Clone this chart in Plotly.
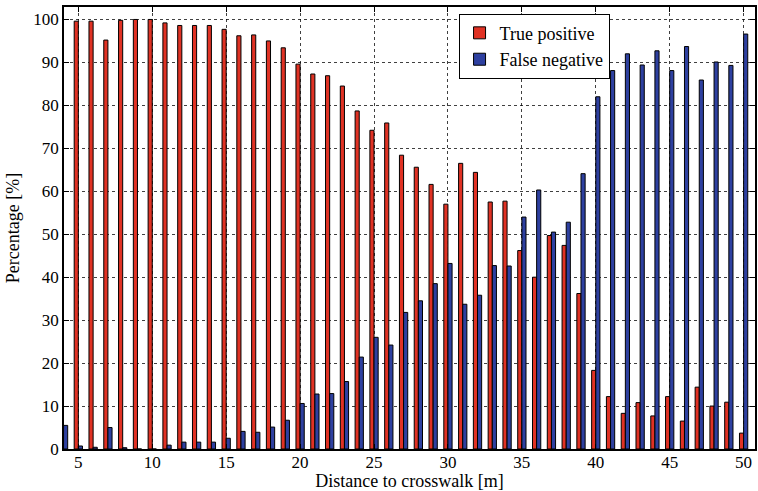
import plotly.graph_objects as go

distance = list(range(4, 51))
true_positive = [None, 99.6, 99.6, 95.2, 99.8, 100.0, 100.0, 99.2, 98.6, 98.6, 98.6, 97.7,
                 96.2, 96.4, 95.0, 93.4, 89.6, 87.3, 86.9, 84.5, 78.7, 74.2, 75.9, 68.4,
                 65.6, 61.6, 57.0, 66.5, 64.4, 57.5, 57.7, 46.2, 40.0, 49.7, 47.4, 36.2,
                 18.3, 12.2, 8.3, 10.8, 7.7, 12.2, 6.5, 14.4, 10.0, 10.9, 3.7]
false_negative = [5.5, 0.7, 0.4, 5.0, 0.3, 0.0, 0.0, 0.9, 1.6, 1.6, 1.6, 2.5,
                  4.1, 3.9, 5.1, 6.7, 10.6, 12.8, 12.9, 15.7, 21.4, 26.0, 24.2, 31.8,
                  34.5, 38.5, 43.2, 33.7, 35.8, 42.7, 42.6, 54.0, 60.3, 50.5, 52.8, 64.1,
                  82.0, 88.1, 92.0, 89.4, 92.7, 88.1, 93.7, 85.9, 90.1, 89.3, 96.6]
x_ticks = [5, 10, 15, 20, 25, 30, 35, 40, 45, 50]
y_ticks = [0, 10, 20, 30, 40, 50, 60, 70, 80, 90, 100]

FONT = "Liberation Serif"

fig = go.Figure()
fig.add_trace(go.Bar(x=distance, y=true_positive, name="True positive",
                     marker=dict(color="rgb(224,50,36)", line=dict(color="black", width=1))))
fig.add_trace(go.Bar(x=distance, y=false_negative, name="False negative",
                     marker=dict(color="rgb(46,64,160)", line=dict(color="black", width=1))))

axis_common = dict(showline=True, linecolor="black", linewidth=1.5, mirror="ticks",
                   ticks="inside", ticklen=5, tickcolor="black",
                   showgrid=True, gridcolor="rgba(0,0,0,0.75)", griddash="dot", gridwidth=1,
                   zeroline=False, ticklabeloverflow="allow",
                   tickfont=dict(family=FONT, size=17, color="black"))

fig.update_layout(
    width=758, height=491,
    margin=dict(l=64, r=1, t=7, b=42),
    paper_bgcolor="white", plot_bgcolor="white",
    barmode="group", bargap=0.44, bargroupgap=0.0,
    font=dict(family=FONT, size=17, color="black"),
    xaxis=dict(range=[4.03, 50.77], tickvals=x_ticks, ticklabelstandoff=-3,
               title=dict(text="Distance to crosswalk [m]", font=dict(family=FONT, size=18), standoff=2),
               **axis_common),
    yaxis=dict(range=[0, 102.9], tickvals=y_ticks,
               title=dict(text="Percentage [%]", font=dict(family=FONT, size=18), standoff=9),
               **axis_common),
    legend=dict(x=0.571, y=0.985, xanchor="left", yanchor="top",
                bgcolor="white", bordercolor="black", borderwidth=1,
                font=dict(family=FONT, size=18), tracegroupgap=0),
    showlegend=True,
)

fig.write_html("out.html",
               config={"displayModeBar": False},
               post_script="document.body.style.margin='0';document.body.style.overflow='hidden';")
